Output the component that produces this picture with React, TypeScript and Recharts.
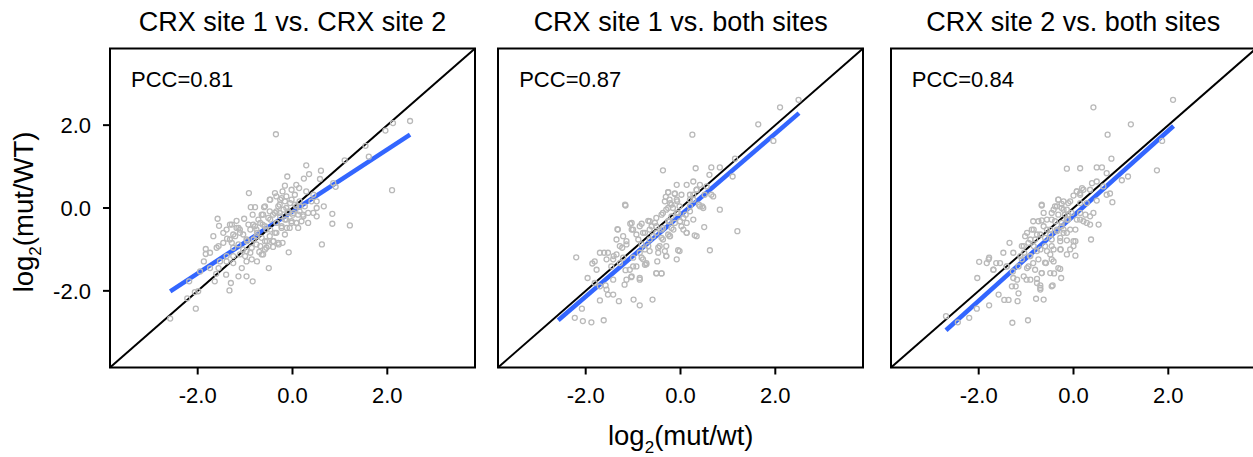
import React from 'react'
import { ScatterChart, Scatter, XAxis, YAxis, ReferenceLine, ReferenceArea } from 'recharts'

// log2 fold changes, [x, y]
const site1VsSite2: [number, number][] = [
  [-0.35, 1.78], [2.48, 2.1], [2.12, 2.05], [1.96, 1.87], [1.54, 1.5], [1.61, 1.24], [1.1, 1.15],
  [2.1, 0.43], [0.29, 1.03], [0.35, 0.82], [0.6, 0.9], [0.58, 0.7], [0.24, 0.71], [-0.11, 0.76],
  [-0.16, 0.54], [0.14, 0.48], [0.91, 0.51], [-0.92, 0.36], [0.86, 0.6], [0.84, -0.14], [0.84, -0.38],
  [1.21, -0.42], [0.62, -0.88], [0.51, 0.0], [0.44, -0.12], [0.33, -0.36], [0.19, -0.32], [0.08, -0.36],
  [-0.08, -1.07], [-0.21, -0.84], [-0.29, -0.88], [-0.41, -0.94], [-0.5, -1.45], [-0.62, -1.12],
  [-0.7, -1.06], [-0.84, -1.77], [-0.97, -1.65], [-1.14, -1.65], [-1.3, -1.81], [-1.33, -1.99],
  [-1.64, -1.77], [-1.4, -1.61], [-1.56, -1.45], [-1.87, -1.29], [-1.83, -1.11], [-1.83, -0.99],
  [-1.6, -0.96], [-1.67, -0.68], [-1.58, -0.26], [-1.55, -0.43], [-1.99, -2.01], [-2.06, -2.03],
  [-2.04, -2.43], [-2.58, -2.67], [-2.22, -2.18], [-2.18, -1.77], [-0.97, -1.29], [-0.88, 0.02],
  [-0.79, 0.02], [-0.6, 0.02], [-0.84, -0.16], [-0.65, -0.16], [-1.18, -0.31], [-1.02, -0.26],
  [-1.32, -0.4], [-1.46, -0.6], [-1.38, -0.74], [-1.25, -0.64], [-1.11, -0.52], [-0.83, -0.4],
  [-0.76, -0.52], [-0.63, -0.4], [-0.51, -0.24], [-0.41, -0.16], [-0.34, -0.08], [-0.27, 0.08],
  [-0.23, 0.24], [-0.13, 0.28], [-0.02, 0.2], [0.05, 0.32], [0.15, 0.16], [0.26, 0.04], [0.33, -0.12],
  [0.01, -0.16], [-0.13, -0.28], [-0.23, -0.48], [-0.34, -0.6], [-0.48, -0.68], [-0.58, -0.8],
  [-0.76, -0.88], [-0.86, -0.96], [-0.97, -1.04], [-1.11, -1.12], [-1.25, -0.96], [-1.39, -1.16],
  [-1.53, -1.29], [-1.74, -1.45], [-1.61, -1.59], [-1.25, -1.33], [-1.07, -1.45], [-0.86, -1.24],
  [-0.55, -0.96], [-0.41, -0.8], [-0.16, -0.64], [-0.06, -0.48], [0.12, -0.48], [0.22, -0.16],
  [0.4, 0.16], [0.51, 0.16], [0.44, 0.32], [0.29, 0.4], [0.08, 0.56], [-0.02, 0.44], [-0.21, 0.4],
  [-0.34, 0.28], [-0.48, 0.2], [-0.62, -0.16], [-0.72, -0.28], [-0.93, -0.4], [-1.04, -0.64],
  [-0.76, -0.68], [-0.34, -0.36], [-0.09, -0.12], [0.15, -0.08], [0.51, -0.2], [0.66, 0.04],
  [-0.27, -0.12], [-0.48, -0.08], [-1.14, -0.48], [-0.97, -0.76], [-1.28, -0.84], [-1.74, -1.08],
  [-1.95, -1.53], [-0.55, -0.52], [-0.13, 0.0], [0.08, 0.04], [-0.02, -0.36],
]

// dense centre of panel 1
const site1VsSite2Core: [number, number][] = [
  [-0.26, 0.2], [-0.16, 0.16], [-0.05, 0.12], [0.05, 0.08], [0.16, 0.04], [-0.3, 0.04], [-0.19, -0.04],
  [-0.09, -0.08], [0.02, -0.12], [0.12, -0.16], [0.23, -0.2], [-0.37, -0.12], [-0.26, -0.2],
  [-0.16, -0.28], [-0.02, -0.32], [0.09, -0.36], [-0.47, -0.28], [-0.33, -0.36], [-0.23, -0.44],
  [-0.12, -0.48], [-0.68, -0.36], [-0.58, -0.44], [-0.47, -0.52], [-0.37, -0.6], [-0.79, -0.44],
  [-0.89, -0.52], [-0.75, -0.6], [-0.65, -0.72], [-0.54, -0.8], [-0.82, -0.76], [-0.96, -0.8],
  [-0.68, -0.92], [-0.58, -1.0], [-1.11, -0.6], [-1.21, -0.68], [-1.32, -0.76], [-1.14, -0.88],
  [-1.04, -1.0], [-1.39, -0.52], [-1.28, -0.4], [-1.18, -0.48], [-1.46, -0.84], [-1.56, -0.92],
  [-1.0, -1.16], [-0.89, -1.08], [-0.75, -1.29], [-0.65, -1.12], [-0.4, -0.8], [-0.3, -0.84],
  [-0.51, -0.92], [-1.25, -1.16], [-1.39, -1.29], [-0.37, 0.36], [-0.47, 0.2], [-0.58, 0.04],
]

const site1VsBoth: [number, number][] = [
  [2.49, 2.61], [2.1, 2.43], [1.64, 2.02], [0.25, 1.77], [1.96, 1.62], [1.15, 1.19], [0.65, 0.98],
  [0.32, 0.96], [-0.37, 0.91], [0.83, 0.98], [0.61, 0.8], [1.1, 0.76], [0.83, -0.04], [1.2, -0.56],
  [0.62, -1.02], [0.5, -0.46], [0.3, -0.66], [0.13, -0.6], [-0.05, -1.02], [-0.08, -1.24],
  [-0.3, -1.16], [-0.49, -1.29], [-0.4, -1.58], [-0.51, -1.58], [-0.59, -2.21], [-0.86, -2.35],
  [-0.99, -2.21], [-1.3, -2.25], [-1.62, -2.71], [-1.88, -2.76], [-2.06, -2.73], [-2.23, -2.65],
  [-2.08, -2.43], [-1.7, -2.23], [-1.53, -2.09], [-1.42, -2.09], [-1.56, -1.97], [-1.58, -1.87],
  [-1.96, -1.69], [-2.2, -1.19], [-1.86, -1.34], [-1.81, -1.29], [-1.61, -1.08], [-1.41, -1.16],
  [-1.33, -0.51], [-1.16, 0.06], [-1.06, -0.38], [-1.23, -0.96], [-1.14, -0.88], [-0.93, -0.64],
  [-0.82, -0.38], [-0.68, -0.31], [-0.61, -0.44], [-0.51, -0.24], [-0.37, -0.12], [-0.26, 0.38],
  [-0.12, 0.35], [-0.31, 0.27], [-0.19, 0.08], [-0.26, 0.0], [-0.08, 0.2], [0.02, 0.32], [0.13, 0.56],
  [0.27, 0.64], [0.2, 0.32], [0.34, 0.44], [0.51, 0.32], [0.65, 0.32], [0.39, 0.08], [0.48, 0.0],
  [0.11, -0.16], [-0.01, -0.32], [-0.15, -0.52], [-0.26, -0.64], [-0.37, -0.76], [-0.47, -0.96],
  [-0.65, -1.04], [-0.75, -1.37], [-0.86, -1.73], [-1.04, -1.67], [-1.16, -1.5], [-1.28, -1.33],
  [-1.46, -1.41], [-1.42, -1.73], [-1.18, -1.85], [-1.0, -1.41], [-0.82, -1.2], [-0.72, -1.33],
  [-0.65, -0.76], [-0.75, -0.6], [-0.82, -0.88], [-0.51, -0.6], [-0.4, -0.52], [-0.23, -0.32],
  [-0.08, -0.12], [0.2, 0.04], [0.27, 0.2], [0.41, 0.56], [0.55, 0.52], [-0.08, 0.56], [-0.23, 0.2],
  [-0.54, -0.36], [-1.0, -0.52], [-1.21, -0.68], [-1.35, -0.76], [-1.7, -1.08], [-1.56, -1.24],
  [-1.77, -1.49], [-1.81, -1.81], [-1.7, -1.89], [-0.33, -1.04], [-0.44, -0.92], [-0.23, -0.68],
  [0.06, -0.52], [0.27, -0.28], [0.46, 0.04], [0.69, 0.28],
]

// dense centre of panel 2
const site1VsBothCore: [number, number][] = [
  [-0.26, 0.38], [-0.12, 0.34], [-0.33, 0.16], [-0.22, 0.12], [-0.07, 0.16], [-0.3, -0.04],
  [-0.16, 0.0], [-0.02, 0.04], [-0.4, -0.16], [-0.19, -0.2], [-0.05, -0.12], [-0.26, -0.32],
  [-0.12, -0.36], [0.06, -0.24], [-0.51, -0.44], [-0.37, -0.48], [-0.19, -0.48], [0.02, -0.44],
  [0.13, -0.36], [-0.58, -0.68], [-0.4, -0.72], [-0.22, -0.68], [-0.3, -0.92], [-0.47, -1.08],
  [-0.68, -0.92], [-0.75, -1.0], [-0.86, -1.08], [-0.79, -1.24], [-0.72, -1.36], [-1.0, -1.2],
  [-0.93, -1.41], [-1.07, -1.49], [-0.89, -0.76], [-0.79, -0.6], [-0.65, -0.52], [-0.86, -0.44],
  [-1.03, -0.52], [-1.14, -0.8], [-1.28, -0.92], [-1.35, -1.12], [-1.42, -1.24], [-1.53, -1.08],
  [-1.21, -1.2], [0.2, 0.2], [0.27, 0.32], [0.34, 0.44], [0.2, -0.08], [0.41, 0.04], [0.34, -0.68],
  [0.13, -0.6], [-0.02, -1.04], [-0.3, -1.16], [-0.51, -1.57], [-0.4, -1.58], [-0.86, -1.69],
  [-1.03, -1.65], [-1.14, -1.73], [-1.17, 0.08], [-1.32, -0.52], [-1.03, -0.36], [-0.65, -0.32],
]

const site2VsBoth: [number, number][] = [
  [2.1, 2.61], [0.42, 2.43], [1.21, 2.02], [0.72, 1.77], [1.87, 1.62], [0.8, 1.19], [1.76, 0.91],
  [-0.14, 0.95], [0.14, 0.96], [0.49, 0.98], [0.6, 0.98], [0.7, 0.84], [1.02, 0.67], [1.15, 0.76],
  [0.39, 0.6], [0.18, 0.48], [0.07, 0.4], [0.0, 0.3], [0.14, 0.36], [0.35, 0.44], [0.7, 0.32],
  [0.77, 0.35], [0.82, 0.14], [0.49, 0.18], [-0.67, 0.06], [-0.32, 0.2], [-0.25, 0.1], [-0.07, 0.16],
  [-0.42, -0.04], [-0.21, -0.04], [-0.11, -0.16], [0.14, -0.12], [0.25, -0.16], [0.07, -0.28],
  [0.21, -0.32], [0.35, -0.4], [0.53, -0.4], [0.37, -0.76], [0.04, -0.8], [0.04, -1.15], [0.0, -0.92],
  [-0.14, -0.78], [-0.28, -0.8], [-0.46, -0.92], [-0.27, -1.0], [-0.28, -1.47], [-0.41, -1.58],
  [-0.26, -1.69], [-0.44, -1.87], [-0.63, -2.21], [-0.79, -2.19], [-0.96, -2.71], [-1.29, -2.77],
  [-1.18, -2.25], [-1.16, -2.06], [-1.22, -1.89], [-1.37, -2.22], [-1.46, -2.22], [-1.58, -2.09],
  [-1.78, -2.35], [-2.04, -2.43], [-2.2, -2.65], [-2.69, -2.61], [-2.44, -2.76], [-2.03, -1.69],
  [-1.69, -1.49], [-1.99, -1.3], [-1.78, -1.2], [-1.83, -1.33], [-1.63, -1.33], [-1.48, -1.08],
  [-1.35, -0.84], [-1.27, -1.08], [-1.27, -1.69], [-0.99, -1.73], [-0.95, -1.41], [-0.77, -1.71],
  [-0.7, -1.87], [-0.7, -1.97], [-0.67, -1.57], [-0.58, -1.33], [-0.85, -1.33], [-1.09, -1.24],
  [-1.04, -1.08], [-0.95, -0.84], [-1.02, -0.68], [-0.88, -0.52], [-0.85, -0.32], [-0.67, -0.3],
  [-0.56, -0.52], [-0.7, -0.64], [-0.81, -0.76], [-0.49, -1.12], [-0.49, -0.64], [-0.35, -0.52],
  [-0.6, -0.92], [-0.77, -1.04], [-0.92, -1.16], [-1.16, -1.41], [-1.41, -1.41], [-1.28, -1.53],
  [-0.42, -1.29], [-0.14, -1.12], [-0.21, -0.6], [-0.07, -0.52], [-0.46, -0.28], [-0.35, 0.04],
  [-0.14, -0.28], [0.14, 0.12], [0.42, -0.12], [0.28, 0.12], [0.49, 0.64], [0.63, 0.52],
  [-0.25, -0.44], [-0.63, -0.12], [-1.09, -0.92],
]

// dense centre of panel 3
const site2VsBothCore: [number, number][] = [
  [-0.32, 0.2], [-0.21, 0.16], [-0.11, 0.12], [-0.39, 0.04], [-0.25, 0.0], [-0.14, -0.04],
  [-0.46, -0.12], [-0.32, -0.16], [-0.18, -0.16], [-0.04, -0.12], [-0.56, -0.28], [-0.39, -0.32],
  [-0.25, -0.36], [-0.11, -0.28], [-0.63, -0.44], [-0.49, -0.52], [-0.35, -0.56], [-0.21, -0.52],
  [-0.77, -0.64], [-0.6, -0.72], [-0.46, -0.76], [-0.28, -0.72], [-0.84, -0.92], [-0.7, -1.0],
  [-0.56, -1.04], [-0.42, -1.0], [-0.91, -1.16], [-0.74, -1.24], [-0.6, -1.32], [-0.46, -1.24],
  [-0.98, -1.45], [-0.81, -1.49], [-0.67, -1.57], [-1.05, -1.65], [-0.91, -1.73], [-0.77, -1.81],
  [-1.19, -1.73], [-1.3, -1.89], [-1.41, -1.41], [-1.55, -1.33], [-1.69, -1.49], [-1.79, -1.24],
  [-1.12, -1.16], [-1.05, -0.92], [-0.91, -0.76], [-0.84, -0.52], [-0.98, -0.6], [-0.74, -0.32],
  [-0.67, 0.08], [0.14, 0.32], [0.07, 0.4], [0.21, 0.44], [0.14, -0.28], [0.28, -0.36],
  [0.35, -0.2], [0.04, -0.52], [-0.14, -0.6], [0.0, -0.8], [-0.07, -1.0], [-0.28, -1.0],
  [-0.32, -1.45], [-0.49, -1.57], [-0.7, -1.93], [-0.46, -1.89],
]

// end points of the blue regression lines
const fit1: [number, number][] = [[-2.58, -2.01], [2.48, 1.77]]
const fit2: [number, number][] = [[-2.58, -2.71], [2.5, 2.29]]
const fit3: [number, number][] = [[-2.69, -2.95], [2.11, 1.98]]

const titles = ['CRX site 1 vs. CRX site 2', 'CRX site 1 vs. both sites', 'CRX site 2 vs. both sites']
const pccLabels = ['PCC=0.81', 'PCC=0.87', 'PCC=0.84']
const tickValues = [-2, 0, 2]
const LIM = 3.85

const FONT = '"Liberation Sans", Arial, Helvetica, sans-serif'
const PLOT_W = 365
const PLOT_TOP = 48.5
const PLOT_BOTTOM = 367.5
const X_AXIS_H = 40

type PanelProps = {
  points: [number, number][]
  fit: [number, number][]
  plotLeft: number
  showY: boolean
}

function Panel({ points, fit, plotLeft, showY }: PanelProps) {
  const yW = showY ? 60 : 0
  const marginLeft = 10
  const width = marginLeft + yW + PLOT_W + 10
  const data = points.map(([x, y]) => ({ x, y }))
  const tickStyle = { fontSize: 22, fill: '#000', fontFamily: FONT }

  return (
    <div style={{ position: 'absolute', left: plotLeft - marginLeft - yW, top: 0 }}>
      <ScatterChart
        width={width}
        height={457}
        margin={{ top: PLOT_TOP, right: 10, bottom: 457 - PLOT_BOTTOM - X_AXIS_H, left: marginLeft }}
      >
        <XAxis
          type="number"
          dataKey="x"
          domain={[-LIM, LIM]}
          allowDataOverflow
          ticks={tickValues}
          tickFormatter={(v: number) => v.toFixed(1)}
          height={X_AXIS_H}
          tick={tickStyle}
          tickSize={7}
          tickMargin={13}
          tickLine={{ stroke: '#000', strokeWidth: 2 }}
          axisLine={false}
        />
        <YAxis
          type="number"
          dataKey="y"
          domain={[-LIM, LIM]}
          allowDataOverflow
          ticks={tickValues}
          tickFormatter={(v: number) => v.toFixed(1)}
          width={yW}
          hide={!showY}
          tick={tickStyle}
          tickSize={7}
          tickMargin={12}
          tickLine={{ stroke: '#000', strokeWidth: 2 }}
          axisLine={false}
        />
        <Scatter
          data={data}
          isAnimationActive={false}
          shape={(p: any) => (
            <circle cx={p.cx} cy={p.cy} r={2.5} fill="none" stroke="#b9b9b9" strokeWidth={1.3} />
          )}
        />
        <ReferenceLine
          segment={[{ x: fit[0][0], y: fit[0][1] }, { x: fit[1][0], y: fit[1][1] }]}
          stroke="#3366ff"
          strokeWidth={4.5}
          ifOverflow="visible"
        />
        <ReferenceLine
          segment={[{ x: -LIM, y: -LIM }, { x: LIM, y: LIM }]}
          stroke="#000"
          strokeWidth={2}
          ifOverflow="visible"
        />
        <ReferenceArea
          x1={-LIM}
          x2={LIM}
          y1={-LIM}
          y2={LIM}
          fill="none"
          stroke="#000"
          strokeWidth={2}
          ifOverflow="visible"
        />
      </ScatterChart>
    </div>
  )
}

const zeroX = [292.5, 680.7, 1073.3]
const allPoints = [
  site1VsSite2.concat(site1VsSite2Core),
  site1VsBoth.concat(site1VsBothCore),
  site2VsBoth.concat(site2VsBothCore),
]
const allFits = [fit1, fit2, fit3]

export default function App() {
  return (
    <div
      style={{
        position: 'absolute',
        left: 0,
        top: 0,
        width: 1253,
        height: 457,
        overflow: 'hidden',
        background: '#fff',
        fontFamily: FONT,
      }}
    >
      {allPoints.map((pts, i) => (
        <Panel
          key={i}
          points={pts}
          fit={allFits[i]}
          plotLeft={zeroX[i] - PLOT_W / 2}
          showY={i === 0}
        />
      ))}
      <svg
        width={1253}
        height={457}
        style={{ position: 'absolute', left: 0, top: 0, pointerEvents: 'none' }}
        fontFamily={FONT}
      >
        {titles.map((t, i) => (
          <text key={t} x={zeroX[i]} y={31} textAnchor="middle" fontSize={27} fill="#000">
            {t}
          </text>
        ))}
        {pccLabels.map((t, i) => (
          <text key={t} x={zeroX[i] - PLOT_W / 2 + 21} y={86.7} fontSize={22} fill="#000">
            {t}
          </text>
        ))}
        <text x={680.7} y={445} textAnchor="middle" fontSize={27.5} fill="#000">
          log
          <tspan fontSize={17} dy={8}>2</tspan>
          <tspan dy={-8}>(mut/wt)</tspan>
        </text>
        <text
          transform="translate(33,212) rotate(-90)"
          textAnchor="middle"
          fontSize={27.5}
          fill="#000"
        >
          log
          <tspan fontSize={17} dy={8}>2</tspan>
          <tspan dy={-8}>(mut/WT)</tspan>
        </text>
      </svg>
    </div>
  )
}
